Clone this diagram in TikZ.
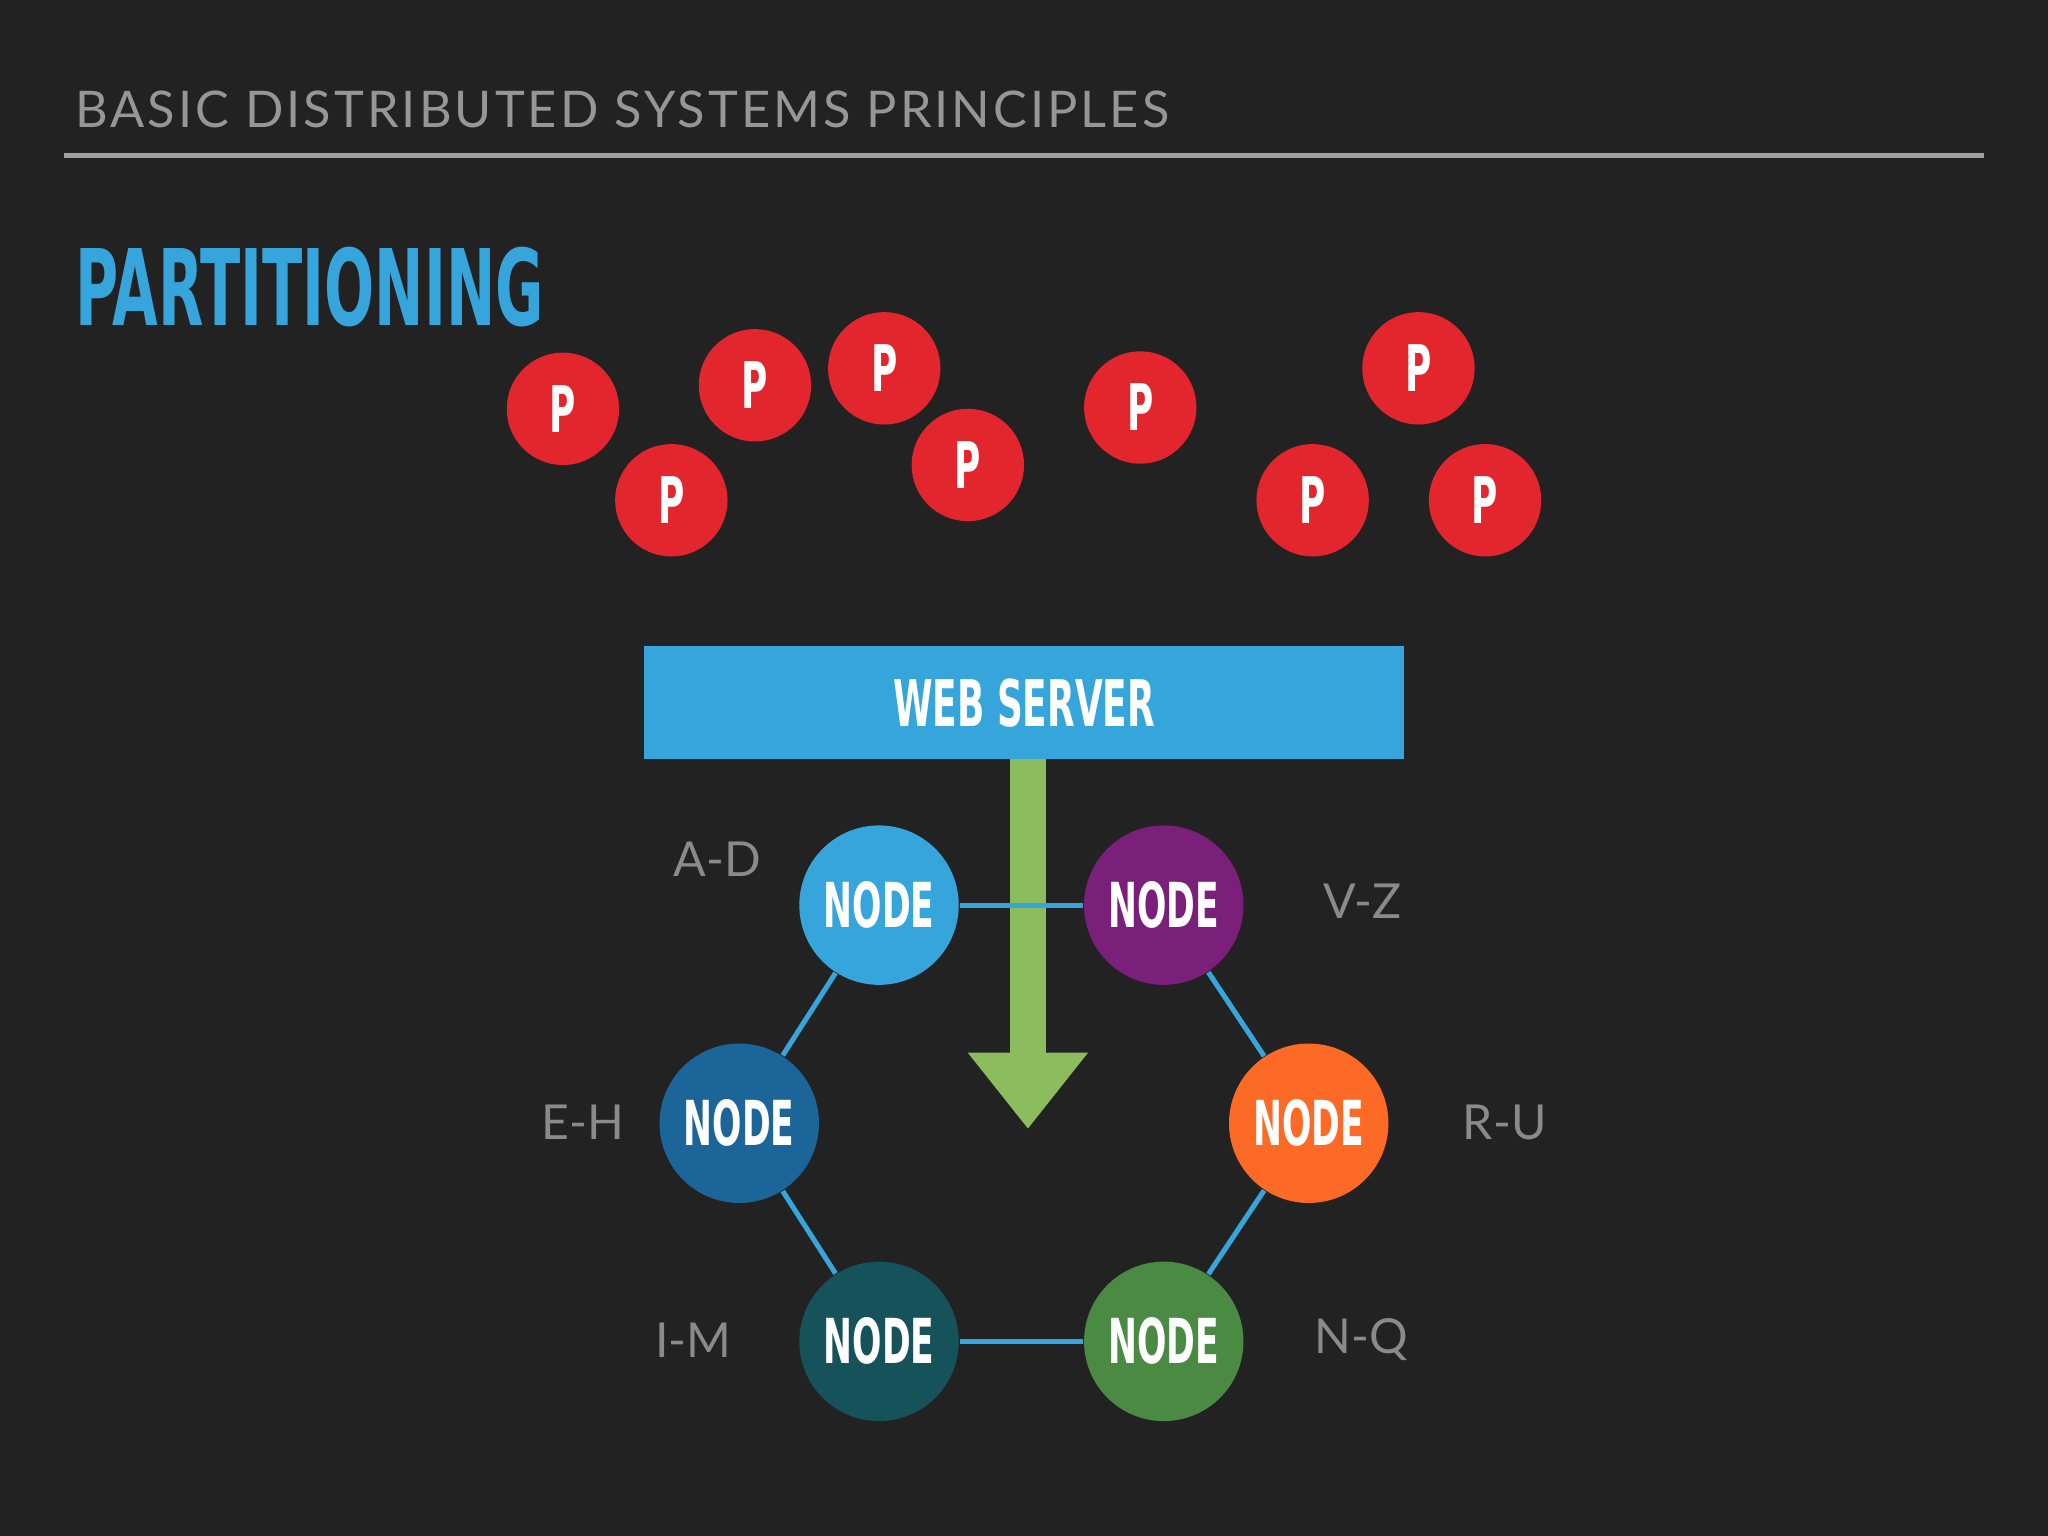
\documentclass[tikz,border=0pt]{standalone}
\usepackage{fontspec}
\setmainfont{Lato}
\newfontfamily\cond[FakeStretch=0.62]{DejaVu Sans Condensed}
\definecolor{bg}{HTML}{222223}
\definecolor{pred}{HTML}{E3262E}
\definecolor{wblue}{HTML}{36A5DC}
\definecolor{agreen}{HTML}{8BBD5E}
\definecolor{lbl}{HTML}{8A8A8A}
\definecolor{cpurple}{HTML}{7A1F7A}
\definecolor{cdblue}{HTML}{1C6599}
\definecolor{corange}{HTML}{FC6A25}
\definecolor{cteal}{HTML}{15525A}
\definecolor{cgreen}{HTML}{4A8A43}
\tikzset{
 pball/.style={circle,fill=pred,minimum size=0.86cm,inner sep=0,text=white,font=\cond\bfseries\fontsize{14}{14}\selectfont},
 nodec/.style={circle,minimum size=1.22cm,inner sep=0,text=white,font=\cond\bfseries\fontsize{13.5}{13.5}\selectfont},
 rng/.style={text=lbl,font=\fontsize{10.5}{10.5}\selectfont},
 link/.style={draw=wblue,line width=1.1pt}
}
\begin{document}
\begin{tikzpicture}[x=0.01cm,y=-0.01cm]
\fill[bg] (0,0) rectangle (1568,1176);
\node[anchor=west,text=lbl!90!white,font=\fontsize{11}{11}\selectfont,inner sep=0] (hdr) at (57,84) {\addfontfeature{LetterSpace=6}BASIC DISTRIBUTED SYSTEMS PRINCIPLES};
\draw[lbl!80!white,line width=1.2pt] (49,119) -- (1519,119);
\node[anchor=west,text=wblue,font=\cond\bfseries\fontsize{23}{23}\selectfont,inner sep=0] (title) at (57,220) {PARTITIONING};
\foreach \x/\y [count=\i] in {431/323,514/393,578/305,677/292,741/366,873/322,1086/292,1005/393,1137/393}
  \node[pball] (p\i) at (\x,\y-10) {P};
\node[fill=wblue,minimum width=5.82cm,minimum height=0.86cm,text=white,font=\cond\bfseries\fontsize{14}{14}\selectfont] (ws) at (784,538) {WEB SERVER};
\fill[agreen] (773,581) rectangle (801,807);
\fill[agreen] (741,806) -- (833,806) -- (787,864) -- cycle;
\node[nodec,fill=wblue] (ad) at (673,693) {NODE};
\node[nodec,fill=cpurple] (vz) at (891,693) {NODE};
\node[nodec,fill=cdblue] (eh) at (566,860) {NODE};
\node[nodec,fill=corange] (ru) at (1002,860) {NODE};
\node[nodec,fill=cteal] (im) at (673,1027) {NODE};
\node[nodec,fill=cgreen] (nq) at (891,1027) {NODE};
\draw[link] (ad) -- (vz);
\draw[link] (vz) -- (ru);
\draw[link] (ru) -- (nq);
\draw[link] (nq) -- (im);
\draw[link] (im) -- (eh);
\draw[link] (eh) -- (ad);
\node[rng] (l1) at (549,658) {A-D};
\node[rng] (l2) at (1043,690) {V-Z};
\node[rng] (l3) at (446,859) {E-H};
\node[rng] (l4) at (1152,859) {R-U};
\node[rng] (l5) at (531,1026) {I-M};
\node[rng] (l6) at (1042,1026) {N-Q};
\end{tikzpicture}
\end{document}
